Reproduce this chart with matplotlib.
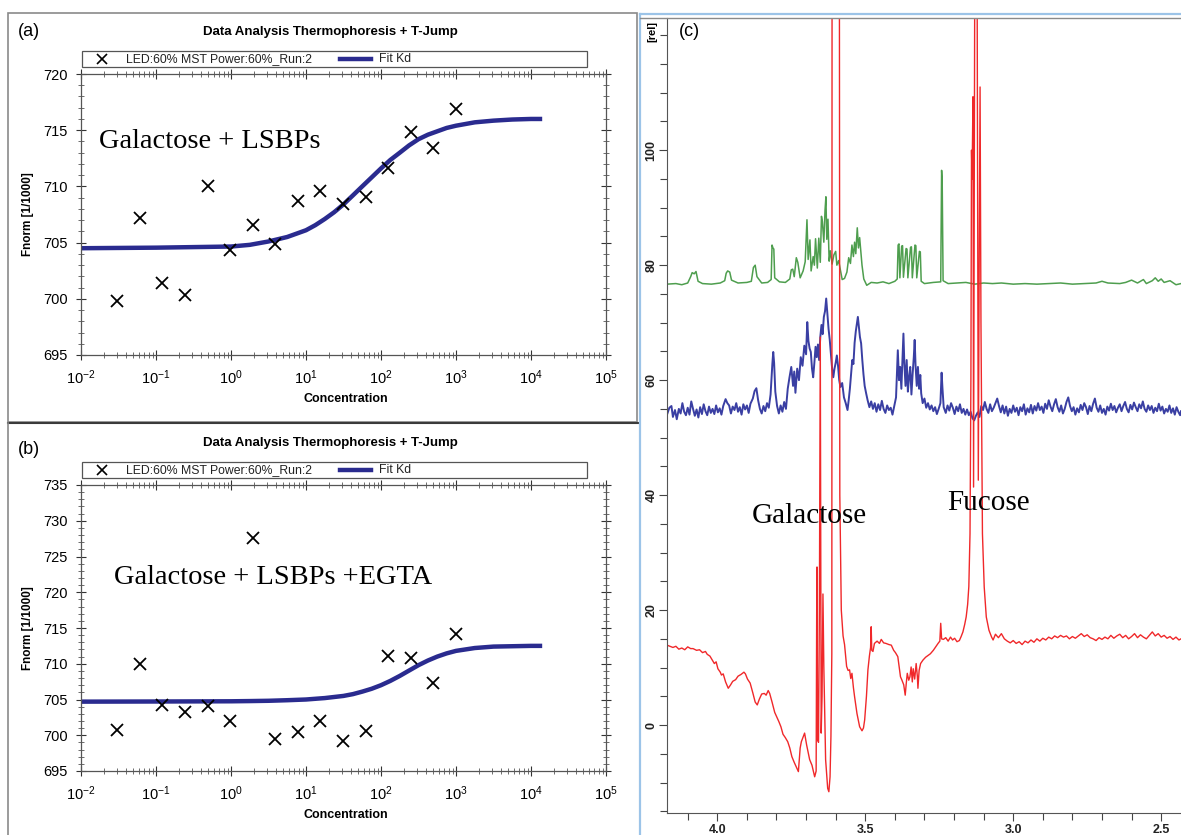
import matplotlib
matplotlib.use('Agg')
import numpy as np
import matplotlib.pyplot as plt
from matplotlib.lines import Line2D
from matplotlib.patches import Rectangle
from matplotlib.ticker import (LogFormatterMathtext, MultipleLocator, FixedLocator,
                               FormatStrFormatter, NullFormatter)

# figure size in pixels (dpi 100)
W, H = 1181, 835

###############################################################################
# MST data, panels (a) and (b)
conc = [0.0305, 0.061, 0.122, 0.244, 0.488, 0.977, 1.95, 3.91, 7.81, 15.6,
        31.3, 62.5, 125, 250, 500, 1000]
fnorm_a = [699.8, 707.2, 701.4, 700.3, 710.0, 704.3, 706.6, 704.9, 708.7, 709.6,
           708.4, 709.1, 711.6, 714.8, 713.4, 716.9]
fnorm_b = [700.8, 709.9, 704.3, 703.2, 704.1, 702.0, 727.6, 699.5, 700.5, 702.0,
           699.2, 700.6, 711.1, 710.8, 707.3, 714.1]

# fit curves
fit_conc = [0.01, 0.1, 1, 1.78, 3.16, 4.22, 5.62, 7.5, 10, 13.3, 17.8, 23.7, 31.6,
            42.2, 56.2, 75, 100, 133, 178, 237, 316, 422, 562, 750, 1000, 1780,
            3160, 5620, 10000, 14100]
fit_a = [704.5, 704.55, 704.65, 704.8, 705.1, 705.3, 705.5, 705.8, 706.1, 706.55,
         707.1, 707.7, 708.4, 709.2, 710.0, 710.8, 711.6, 712.35, 713.0, 713.65,
         714.2, 714.6, 714.9, 715.2, 715.4, 715.7, 715.85, 715.95, 716.0, 716.0]
fit_b = [704.7, 704.72, 704.75, 704.78, 704.82, 704.86, 704.9, 704.95, 705.0, 705.1,
         705.2, 705.35, 705.5, 705.75, 706.1, 706.5, 707.0, 707.6, 708.3, 709.05,
         709.8, 710.45, 711.0, 711.45, 711.8, 712.2, 712.4, 712.45, 712.5, 712.5]

decades = [1e-2, 1e-1, 1e0, 1e1, 1e2, 1e3, 1e4, 1e5]

legend_points = 'LED:60% MST Power:60%_Run:2'
legend_fit = 'Fit Kd'
mst_title = 'Data Analysis Thermophoresis + T-Jump'

###############################################################################
# NMR spectra, panel (c): (ppm, rel)
green = [(4.170, 76.7), (4.14, 76.8), (4.12, 76.6), (4.10, 76.9), (4.09, 78.0),
         (4.085, 78.7), (4.078, 78.5), (4.072, 78.9), (4.065, 77.2), (4.05, 76.8),
         (4.02, 76.7), (3.99, 76.9), (3.975, 77.3), (3.970, 78.6), (3.965, 79.0),
         (3.958, 78.8), (3.952, 77.4), (3.93, 76.9), (3.90, 77.0), (3.885, 77.2),
         (3.878, 79.6), (3.872, 80.0), (3.866, 78.0), (3.85, 76.9), (3.83, 77.0),
         (3.818, 77.5), (3.815, 83.5), (3.812, 83.0), (3.809, 82.8), (3.806, 77.8),
         (3.79, 77.1), (3.77, 77.0), (3.755, 77.6), (3.750, 79.2), (3.745, 79.3),
         (3.740, 78.0), (3.733, 81.3), (3.728, 80.5), (3.72, 77.8), (3.71, 79.0),
         (3.703, 80.6), (3.697, 87.9), (3.693, 81.0), (3.687, 84.4), (3.683, 79.0),
         (3.676, 81.5), (3.672, 80.0), (3.668, 84.6), (3.662, 79.5), (3.657, 84.7),
         (3.652, 80.5), (3.648, 88.5), (3.645, 87.6), (3.640, 84.0), (3.636, 89.5),
         (3.633, 91.9), (3.630, 84.5), (3.626, 88.0), (3.622, 80.7), (3.618, 82.5),
         (3.612, 80.2), (3.606, 81.8), (3.600, 82.4), (3.596, 80.0), (3.590, 80.8),
         (3.584, 79.2), (3.578, 77.5), (3.570, 77.7), (3.562, 78.8), (3.556, 81.3),
         (3.550, 80.3), (3.545, 83.5), (3.540, 81.5), (3.536, 84.0), (3.532, 82.0),
         (3.527, 86.5), (3.523, 83.0), (3.519, 84.8), (3.515, 82.5), (3.511, 80.0),
         (3.505, 77.6), (3.495, 76.5), (3.48, 77.0), (3.46, 76.9), (3.44, 77.1),
         (3.42, 76.8), (3.40, 77.2), (3.392, 77.6), (3.389, 83.5), (3.386, 83.7),
         (3.383, 77.8), (3.377, 83.3), (3.374, 83.4), (3.371, 77.9), (3.362, 82.9),
         (3.359, 82.8), (3.356, 77.8), (3.347, 83.1), (3.344, 83.2), (3.341, 77.8),
         (3.332, 83.5), (3.329, 83.4), (3.326, 77.8), (3.317, 82.4), (3.314, 82.3),
         (3.311, 77.2), (3.30, 76.8), (3.27, 77.0), (3.245, 77.1), (3.242, 96.5),
         (3.240, 94.5), (3.237, 77.3), (3.22, 76.8), (3.19, 76.9), (3.16, 77.0),
         (3.13, 76.7), (3.10, 76.9), (3.07, 76.8), (3.04, 76.9), (3.00, 76.7),
         (2.96, 76.8), (2.92, 76.7), (2.88, 76.8), (2.84, 76.9), (2.80, 76.7),
         (2.76, 76.8), (2.72, 76.9), (2.70, 77.2), (2.68, 76.9), (2.64, 76.8),
         (2.62, 77.0), (2.60, 77.4), (2.58, 76.9), (2.56, 77.5), (2.55, 76.8),
         (2.53, 77.3), (2.52, 77.8), (2.51, 77.2), (2.50, 77.6), (2.49, 77.0),
         (2.47, 77.3), (2.45, 76.6), (2.433, 76.8)]

blue = [(4.170, 54.0), (4.162, 55.2), (4.155, 55.5), (4.150, 53.6), (4.143, 54.8),
        (4.137, 53.2), (4.130, 55.0), (4.124, 54.2), (4.118, 56.0), (4.112, 54.5),
        (4.106, 53.9), (4.100, 55.2), (4.094, 54.0), (4.088, 56.3), (4.082, 55.0),
        (4.076, 53.8), (4.070, 54.9), (4.064, 53.5), (4.058, 55.3), (4.052, 54.1),
        (4.046, 55.8), (4.040, 54.6), (4.034, 53.9), (4.028, 55.4), (4.022, 54.3),
        (4.016, 55.0), (4.010, 54.1), (4.004, 55.6), (3.998, 54.4), (3.992, 55.1),
        (3.986, 54.0), (3.980, 55.5), (3.972, 56.7), (3.966, 56.0), (3.960, 55.6),
        (3.954, 54.2), (3.948, 55.4), (3.942, 54.8), (3.936, 56.0), (3.930, 54.5),
        (3.924, 55.3), (3.918, 54.0), (3.912, 55.8), (3.906, 54.9), (3.900, 55.6),
        (3.894, 54.3), (3.888, 55.9), (3.880, 56.8), (3.874, 58.1), (3.868, 58.6),
        (3.862, 56.5), (3.856, 55.0), (3.850, 54.2), (3.844, 55.5), (3.838, 54.6),
        (3.832, 56.0), (3.826, 55.2), (3.820, 57.5), (3.814, 62.8), (3.811, 64.9),
        (3.808, 63.0), (3.804, 58.0), (3.798, 55.5), (3.792, 54.2), (3.786, 55.6),
        (3.780, 54.5), (3.774, 56.2), (3.768, 55.0), (3.762, 58.5), (3.756, 60.5),
        (3.750, 62.3), (3.744, 59.0), (3.740, 61.5), (3.736, 57.8), (3.730, 62.0),
        (3.724, 60.0), (3.718, 64.0), (3.712, 62.5), (3.706, 66.0), (3.700, 64.5),
        (3.696, 70.1), (3.692, 66.8), (3.688, 65.5), (3.684, 64.9), (3.680, 62.0),
        (3.676, 60.5), (3.672, 63.0), (3.668, 65.8), (3.664, 64.0), (3.660, 66.2),
        (3.656, 63.5), (3.652, 67.5), (3.648, 69.6), (3.644, 68.0), (3.640, 71.0),
        (3.636, 72.0), (3.632, 74.2), (3.628, 71.5), (3.624, 68.9), (3.620, 67.0),
        (3.616, 64.5), (3.612, 62.0), (3.608, 60.5), (3.604, 62.0), (3.600, 63.0),
        (3.596, 64.3), (3.592, 62.5), (3.588, 60.0), (3.584, 58.8), (3.578, 59.5),
        (3.572, 57.0), (3.566, 56.0), (3.560, 54.8), (3.556, 56.5), (3.552, 58.5),
        (3.548, 61.0), (3.544, 63.5), (3.540, 62.8), (3.536, 66.5), (3.532, 68.5),
        (3.528, 70.0), (3.525, 71.0), (3.522, 69.5), (3.518, 67.5), (3.514, 66.4),
        (3.510, 63.5), (3.506, 61.0), (3.502, 59.0), (3.497, 57.7), (3.492, 56.5),
        (3.486, 55.3), (3.480, 56.3), (3.474, 55.0), (3.468, 56.0), (3.462, 54.5),
        (3.456, 55.8), (3.450, 54.8), (3.444, 56.4), (3.438, 55.0), (3.432, 54.3),
        (3.426, 55.6), (3.420, 54.8), (3.414, 55.2), (3.408, 54.0), (3.402, 55.5),
        (3.396, 57.0), (3.392, 62.5), (3.390, 65.2), (3.386, 60.0), (3.382, 62.3),
        (3.378, 58.5), (3.374, 64.0), (3.371, 68.1), (3.368, 63.0), (3.364, 59.0),
        (3.360, 63.5), (3.356, 58.0), (3.352, 60.5), (3.348, 62.3), (3.344, 57.5),
        (3.340, 61.0), (3.336, 64.0), (3.333, 67.0), (3.330, 62.5), (3.326, 59.0),
        (3.322, 62.3), (3.318, 58.5), (3.314, 60.9), (3.311, 57.7), (3.306, 56.0),
        (3.300, 56.8), (3.294, 55.2), (3.288, 56.0), (3.282, 54.9), (3.276, 55.6),
        (3.270, 54.6), (3.264, 55.3), (3.258, 54.1), (3.252, 55.0), (3.246, 56.0),
        (3.242, 61.3), (3.239, 58.5), (3.235, 55.3), (3.228, 54.3), (3.222, 55.6),
        (3.216, 54.7), (3.210, 56.0), (3.204, 55.2), (3.198, 54.1), (3.192, 55.4),
        (3.186, 54.6), (3.180, 55.8), (3.174, 54.3), (3.168, 55.0), (3.162, 54.0),
        (3.156, 54.9), (3.150, 53.9), (3.144, 54.5), (3.138, 53.4), (3.132, 53.0),
        (3.126, 53.8), (3.120, 54.4), (3.114, 53.6), (3.108, 55.5), (3.102, 54.8),
        (3.096, 56.2), (3.090, 55.0), (3.084, 54.3), (3.078, 55.8), (3.072, 54.6),
        (3.066, 55.2), (3.060, 56.0), (3.054, 56.8), (3.048, 55.5), (3.042, 54.4),
        (3.036, 55.6), (3.030, 54.2), (3.024, 55.4), (3.018, 53.8), (3.012, 55.0),
        (3.006, 54.3), (3.000, 55.6), (2.994, 54.5), (2.988, 55.2), (2.982, 53.9),
        (2.976, 55.3), (2.970, 54.6), (2.964, 55.8), (2.958, 54.0), (2.952, 55.1),
        (2.946, 54.4), (2.940, 55.7), (2.934, 54.2), (2.928, 55.5), (2.922, 54.7),
        (2.916, 56.0), (2.910, 54.8), (2.904, 55.4), (2.898, 54.3), (2.892, 55.9),
        (2.886, 55.0), (2.880, 56.5), (2.874, 55.4), (2.868, 54.6), (2.862, 55.8),
        (2.856, 56.7), (2.850, 55.3), (2.844, 54.5), (2.838, 55.6), (2.832, 54.2),
        (2.826, 55.0), (2.820, 56.2), (2.814, 57.0), (2.808, 55.5), (2.802, 54.6),
        (2.796, 55.3), (2.790, 54.0), (2.784, 55.1), (2.778, 54.4), (2.772, 55.7),
        (2.766, 54.8), (2.760, 56.0), (2.754, 55.3), (2.748, 54.1), (2.742, 55.5),
        (2.736, 54.6), (2.730, 55.9), (2.724, 56.8), (2.718, 55.2), (2.712, 54.5),
        (2.706, 55.6), (2.700, 54.3), (2.694, 55.0), (2.688, 54.0), (2.682, 55.4),
        (2.676, 54.7), (2.670, 55.9), (2.664, 54.8), (2.658, 55.5), (2.652, 54.4),
        (2.646, 55.2), (2.640, 55.8), (2.634, 54.6), (2.628, 55.5), (2.622, 56.2),
        (2.616, 55.0), (2.610, 54.4), (2.604, 55.7), (2.598, 54.9), (2.592, 56.1),
        (2.586, 55.3), (2.580, 54.6), (2.574, 55.8), (2.568, 55.1), (2.562, 56.3),
        (2.556, 55.0), (2.550, 54.5), (2.544, 55.6), (2.538, 54.8), (2.532, 55.5),
        (2.526, 54.3), (2.520, 55.2), (2.514, 54.6), (2.508, 55.9), (2.502, 54.7),
        (2.496, 55.4), (2.490, 54.2), (2.484, 55.0), (2.478, 54.5), (2.472, 55.6),
        (2.466, 54.3), (2.460, 55.1), (2.454, 54.0), (2.448, 55.3), (2.442, 54.5),
        (2.436, 53.9), (2.433, 54.6)]

red = [(4.170, 13.9), (4.16, 13.7), (4.15, 13.5), (4.14, 13.7), (4.13, 13.2),
       (4.12, 13.4), (4.11, 13.1), (4.10, 13.6), (4.09, 13.3), (4.082, 13.3),
       (4.07, 13.0), (4.06, 13.1), (4.05, 12.6), (4.04, 12.8), (4.034, 12.3),
       (4.025, 12.0), (4.018, 11.4), (4.010, 10.7), (4.004, 11.0), (3.998, 9.8),
       (3.990, 9.2), (3.986, 8.7), (3.980, 8.9), (3.972, 7.5), (3.963, 6.4),
       (3.955, 7.0), (3.948, 7.6), (3.938, 7.9), (3.930, 8.5), (3.920, 8.8),
       (3.910, 9.2), (3.905, 8.9), (3.898, 8.0), (3.889, 7.3), (3.880, 5.6),
       (3.872, 4.0), (3.865, 3.5), (3.858, 4.5), (3.850, 5.4), (3.841, 5.5),
       (3.835, 5.2), (3.828, 6.0), (3.823, 5.5), (3.815, 4.0), (3.806, 2.2),
       (3.800, 1.5), (3.792, 0.6), (3.785, -0.3), (3.778, -1.6), (3.770, -2.2),
       (3.762, -2.9), (3.755, -4.0), (3.748, -5.5), (3.740, -6.5), (3.733, -7.3),
       (3.726, -8.1), (3.720, -4.0), (3.716, -2.9), (3.705, -1.4), (3.698, -3.5),
       (3.688, -6.0), (3.680, -7.0), (3.671, -9.0), (3.666, -8.0), (3.664, 22.0),
       (3.663, 27.5), (3.661, -2.6), (3.658, -3.0), (3.655, 20.0), (3.652, 67.5),
       (3.649, -1.4), (3.646, 5.0), (3.643, 22.8), (3.640, 10.1), (3.634, -6.0),
       (3.627, -11.0), (3.623, -11.6), (3.619, -9.0), (3.616, -2.0), (3.613, 12.4),
       (3.611, 300), (3.590, 300), (3.586, 40.0), (3.581, 20.0), (3.575, 15.5),
       (3.570, 14.0), (3.563, 10.2), (3.558, 9.5), (3.553, 9.6), (3.549, 8.1),
       (3.545, 9.0), (3.540, 6.5), (3.536, 4.9), (3.528, 2.0), (3.519, -0.3),
       (3.511, -1.0), (3.506, -0.5), (3.502, 0.9), (3.496, 5.0), (3.491, 9.6),
       (3.486, 12.0), (3.482, 13.5), (3.480, 17.1), (3.478, 13.0), (3.474, 12.8),
       (3.469, 14.2), (3.460, 14.6), (3.452, 14.2), (3.446, 14.9), (3.438, 14.3),
       (3.430, 14.2), (3.420, 14.0), (3.412, 13.9), (3.404, 13.0), (3.398, 12.6),
       (3.390, 11.9), (3.385, 10.0), (3.381, 8.4), (3.376, 7.8), (3.370, 7.0),
       (3.365, 5.2), (3.361, 7.5), (3.358, 9.0), (3.353, 7.8), (3.349, 8.4),
       (3.345, 10.1), (3.341, 7.5), (3.338, 9.8), (3.333, 8.0), (3.328, 10.7),
       (3.324, 8.5), (3.322, 6.4), (3.318, 9.5), (3.313, 10.7), (3.305, 11.3),
       (3.296, 11.8), (3.288, 12.1), (3.280, 12.4), (3.270, 13.0), (3.262, 13.6),
       (3.254, 14.2), (3.248, 14.6), (3.245, 17.7), (3.242, 15.0), (3.236, 14.9),
       (3.228, 15.2), (3.220, 14.6), (3.212, 15.3), (3.205, 14.8), (3.198, 15.1),
       (3.190, 14.5), (3.182, 14.7), (3.176, 15.4), (3.170, 16.2), (3.164, 17.5),
       (3.159, 18.8), (3.154, 21.0), (3.150, 24.1), (3.146, 33.3), (3.143, 60.0),
       (3.141, 100.0), (3.139, 95.0), (3.136, 109.3), (3.134, 41.4), (3.130, 130),
       (3.126, 200), (3.122, 130), (3.118, 42.6), (3.115, 80.0), (3.112, 111.0),
       (3.109, 70.0), (3.104, 33.3), (3.098, 24.0), (3.091, 18.8), (3.082, 16.5),
       (3.073, 15.3), (3.068, 14.8), (3.060, 15.8), (3.050, 15.2), (3.040, 15.9),
       (3.030, 15.0), (3.020, 14.6), (3.010, 14.3), (3.000, 14.7), (2.990, 14.2),
       (2.980, 14.5), (2.970, 14.0), (2.960, 14.6), (2.950, 14.3), (2.940, 14.8),
       (2.930, 14.4), (2.920, 15.0), (2.910, 14.6), (2.900, 15.1), (2.890, 14.8),
       (2.880, 15.3), (2.870, 15.0), (2.860, 15.5), (2.850, 15.2), (2.840, 15.6),
       (2.830, 15.3), (2.820, 15.5), (2.810, 15.0), (2.800, 15.4), (2.790, 15.1),
       (2.780, 15.5), (2.770, 15.9), (2.760, 15.4), (2.750, 15.7), (2.740, 15.2),
       (2.730, 15.0), (2.720, 14.7), (2.710, 15.2), (2.700, 14.9), (2.690, 15.3),
       (2.680, 15.0), (2.670, 15.6), (2.660, 15.1), (2.650, 15.5), (2.640, 15.8),
       (2.630, 15.2), (2.620, 15.6), (2.610, 15.0), (2.600, 15.4), (2.590, 15.9),
       (2.580, 15.2), (2.570, 15.7), (2.560, 15.3), (2.550, 15.0), (2.540, 15.6),
       (2.530, 16.2), (2.520, 15.5), (2.510, 15.9), (2.500, 15.3), (2.490, 15.6),
       (2.480, 15.1), (2.470, 15.4), (2.460, 14.9), (2.450, 15.3), (2.440, 14.8),
       (2.433, 15.0)]

rel_ticks = [0, 20, 40, 60, 80, 100]
ppm_ticks = [4.0, 3.5, 3.0, 2.5]


def fx(x):
    return x / W


def fy(y):
    return 1 - y / H


def fig_line(fig, x0, y0, x1, y1, **kw):
    fig.add_artist(Line2D([fx(x0), fx(x1)], [fy(y0), fy(y1)], transform=fig.transFigure, **kw))


def mst_panel(fig, top, bottom, values, fit, ylim, note, note_x, note_y):
    ax = fig.add_axes([fx(81), fy(bottom), (606 - 81) / W, (bottom - top) / H])
    ax.plot(fit_conc, fit, color='#2a2b8f', lw=3.2, solid_capstyle='butt', zorder=2)
    ax.plot(conc, values, ls='none', marker='x', color='black', ms=8, mew=1.3, zorder=3)
    ax.set_xscale('log')
    ax.set_xlim(1e-2, 1e5)
    ax.set_ylim(*ylim)
    ax.xaxis.set_major_locator(FixedLocator(decades))
    ax.xaxis.set_minor_locator(FixedLocator([d * k for d in decades[:-1] for k in range(2, 10)]))
    ax.xaxis.set_major_formatter(LogFormatterMathtext())
    ax.xaxis.set_minor_formatter(NullFormatter())
    ax.yaxis.set_major_locator(MultipleLocator(5))
    ax.yaxis.set_minor_locator(MultipleLocator(1))
    ax.tick_params(which='major', direction='inout', length=7, width=0.8, top=True, right=True,
                   labelsize=10.5, color='#333333', pad=6)
    ax.tick_params(which='minor', direction='inout', length=4, width=0.6, top=True, right=True,
                   color='#555555')
    for sp_ in ax.spines.values():
        sp_.set_color('#555555')
        sp_.set_linewidth(0.9)

    # title, legend box and axis labels drawn on the figure
    fig.text(fx(330), fy(top - 42), mst_title, ha='center', va='center',
             fontsize=9.5, weight='bold')
    ly0, ly1 = top - 23, top - 7.5
    fig.add_artist(Rectangle((fx(82), fy(ly1)), (587 - 82) / W, (ly1 - ly0) / H,
                             transform=fig.transFigure, fill=False, ec='#555555', lw=0.9))
    lyc = (ly0 + ly1) / 2
    fig.add_artist(Line2D([fx(102)], [fy(lyc)], transform=fig.transFigure, marker='x',
                          color='black', ms=7, mew=1.2, ls='none'))
    fig.text(fx(126), fy(lyc), legend_points, ha='left', va='center', fontsize=8.8,
             color='#222222')
    fig_line(fig, 340, lyc, 371, lyc, color='#2a2b8f', lw=3.2)
    fig.text(fx(379), fy(lyc), legend_fit, ha='left', va='center', fontsize=8.8,
             color='#222222')
    fig.text(fx(28), fy((top + bottom) / 2), 'Fnorm [1/1000]', rotation=90, ha='center',
             va='center', fontsize=8.5, weight='bold')
    fig.text(fx(346), fy(bottom + 44), 'Concentration', ha='center', va='center',
             fontsize=9, weight='bold')
    fig.text(fx(note_x), fy(note_y), note, ha='left', va='center', fontsize=20.5,
             family='Liberation Serif')
    return ax


def main():
    plt.rcParams['font.family'] = ['Liberation Sans', 'DejaVu Sans']
    plt.rcParams['mathtext.fontset'] = 'custom'
    plt.rcParams['mathtext.rm'] = 'Liberation Sans'

    fig = plt.figure(figsize=(W / 100, H / 100), dpi=100)

    ### panel frames
    fig.add_artist(Rectangle((fx(8), fy(422)), (637 - 8) / W, (422 - 13) / H,
                             transform=fig.transFigure, fill=False, ec='#8a8a8a', lw=1.2))
    fig_line(fig, 8, 423, 638, 423, color='#3a3a3a', lw=1.5)
    fig_line(fig, 8, 423, 8, 835, color='#8a8a8a', lw=1.2)
    fig_line(fig, 640, 14, 640, 835, color='#9cc4e8', lw=1.6)
    fig_line(fig, 640, 14, 1181, 14, color='#9cc4e8', lw=1.6)
    fig_line(fig, 640, 17.5, 1181, 17.5, color='#8a8a8a', lw=1.0)

    ### (a) and (b): MST binding curves
    mst_panel(fig, 74, 355, fnorm_a, fit_a, (695, 720), 'Galactose + LSBPs', 99, 141)
    mst_panel(fig, 485, 771, fnorm_b, fit_b, (695, 735), 'Galactose + LSBPs +EGTA', 114, 578)
    fig.text(fx(29), fy(31), '(a)', ha='center', va='center', fontsize=13)
    fig.text(fx(29), fy(450), '(b)', ha='center', va='center', fontsize=13)

    ### (c): NMR spectra
    ax = fig.add_axes([fx(667), fy(813), (W - 667) / W, (813 - 18) / H])
    for trace, col, lw in [(green, '#4e9e4e', 1.1), (blue, '#3a3fa3', 1.4), (red, '#f0282a', 1.0)]:
        ppm, rel = zip(*trace)
        ax.plot(ppm, rel, color=col, lw=lw)
    ax.set_xlim(4.170, 2.433)
    ax.set_ylim(-15.3, 123)
    ax.xaxis.set_major_locator(FixedLocator(ppm_ticks))
    ax.xaxis.set_minor_locator(MultipleLocator(0.1))
    ax.xaxis.set_major_formatter(FormatStrFormatter('%.1f'))
    ax.yaxis.set_major_locator(FixedLocator(rel_ticks))
    ax.yaxis.set_minor_locator(MultipleLocator(5))
    ax.tick_params(which='major', direction='out', length=6, width=0.8, color='#444444',
                   labelsize=9, pad=2)
    ax.tick_params(which='minor', direction='out', length=5, width=0.8, color='#444444')
    ax.tick_params(axis='y', labelrotation=90, pad=1)
    for lab in ax.get_xticklabels() + ax.get_yticklabels():
        lab.set_fontweight('bold')
        lab.set_color('#222222')
    for lab in ax.get_yticklabels():
        lab.set_va('center')
    ax.spines['top'].set_visible(False)
    ax.spines['right'].set_visible(False)
    ax.spines['left'].set_color('#555555')
    ax.spines['bottom'].set_color('#555555')
    fig.text(fx(652), fy(31), '[rel]', rotation=90, ha='center', va='center',
             fontsize=8, weight='bold')
    fig.text(fx(689), fy(32), '(c)', ha='center', va='center', fontsize=13)
    fig.text(fx(752), fy(516), 'Galactose', ha='left', va='center', fontsize=21,
             family='Liberation Serif')
    fig.text(fx(947), fy(503), 'Fucose', ha='left', va='center', fontsize=21,
             family='Liberation Serif')

    fig.savefig('out.png', dpi=100)
    plt.close()


if __name__ == '__main__':
    main()
